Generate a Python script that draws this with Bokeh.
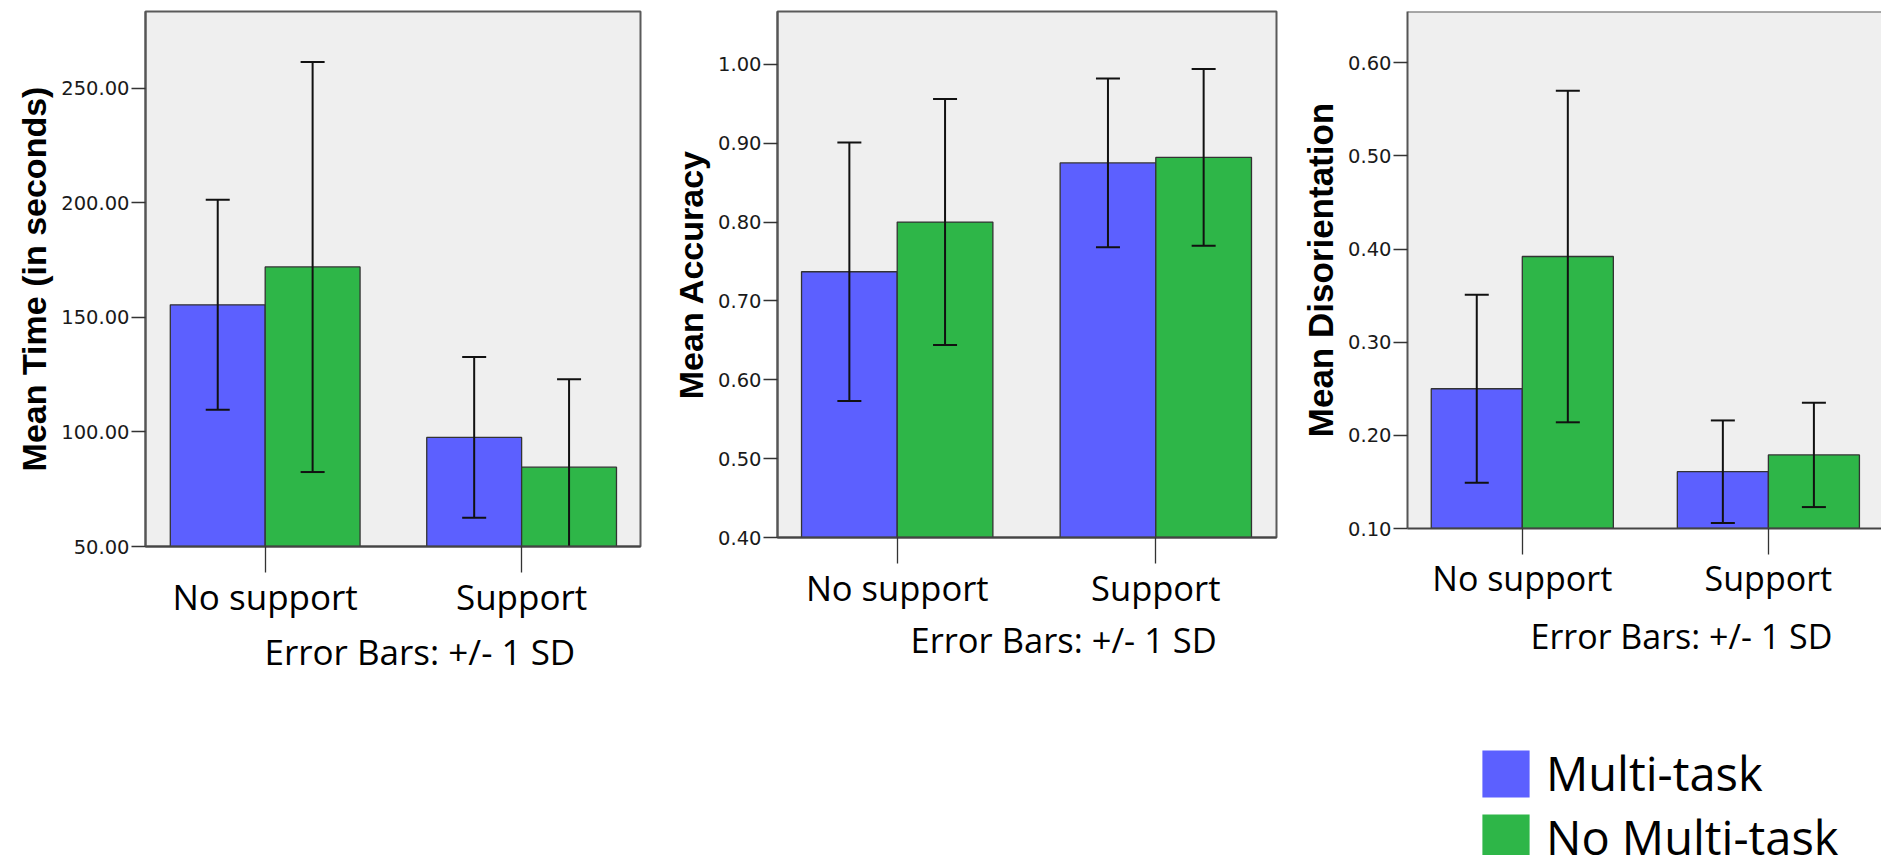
import numpy as np
from bokeh.plotting import figure
from bokeh.models import (ColumnDataSource, Range1d, FixedTicker, NumeralTickFormatter,
                          Legend, LegendItem, Span, Title)
from bokeh.layouts import row, column
from bokeh.embed import file_html
from bokeh.resources import INLINE

# ---------------- data ----------------
categories = ["No support", "Support"]
series_names = ["Multi-task", "No Multi-task"]

time_multi = [155.5, 97.6]
time_multi_sd = [45.8, 35.1]
time_nomulti = [172.0, 84.6]
time_nomulti_sd = [89.5, 38.4]
time_ticks = [50, 100, 150, 200, 250]

acc_multi = [0.737, 0.875]
acc_multi_sd = [0.164, 0.107]
acc_nomulti = [0.800, 0.882]
acc_nomulti_sd = [0.156, 0.112]
acc_ticks = [0.40, 0.50, 0.60, 0.70, 0.80, 0.90, 1.00]

dis_multi = [0.250, 0.161]
dis_multi_sd = [0.101, 0.055]
dis_nomulti = [0.392, 0.179]
dis_nomulti_sd = [0.178, 0.056]
dis_ticks = [0.10, 0.20, 0.30, 0.40, 0.50, 0.60]

# ---------------- style ----------------
BLUE = "#5C60FF"
GREEN = "#2EB648"
BAR_W = 0.37
TOP = 11


def no_align(p):
    if "frame_align" in p.properties():
        p.frame_align = False


def make_panel(width, height, left, right, frame_h, xr, yr, ticks, ylabel,
               multi, multi_sd, nomulti, nomulti_sd,
               xfont, eb_offset, eb_font, eb_standoff, title_size, outline=True):
    p = figure(width=width, height=height, x_range=Range1d(*xr), y_range=Range1d(*yr),
               output_backend="svg", toolbar_location=None,
               min_border_left=left, min_border_right=right,
               min_border_top=TOP, min_border_bottom=height - TOP - frame_h)
    no_align(p)
    p.background_fill_color = "#EFEFEF"
    p.border_fill_color = "white"
    p.grid.visible = False
    if outline:
        p.outline_line_color = "#5a5a5a"
        p.outline_line_width = 2
    else:
        p.outline_line_color = None
        p.add_layout(Span(location=yr[1], dimension="width",
                          line_color="#5a5a5a", line_width=2))

    base = yr[0]
    xs = np.arange(len(categories), dtype=float)
    for vals, sds, off, col in ((multi, multi_sd, -BAR_W / 2, BLUE),
                                (nomulti, nomulti_sd, BAR_W / 2, GREEN)):
        v = np.array(vals)
        s = np.array(sds)
        src = ColumnDataSource(dict(x=xs + off, top=v, lo=v - s, hi=v + s))
        p.vbar(x="x", top="top", bottom=base, width=BAR_W, source=src,
               fill_color=col, line_color="#333333", line_width=1.3)
        p.segment(x0="x", x1="x", y0="lo", y1="hi", source=src,
                  line_color="#111111", line_width=2)
        p.scatter(x="x", y="hi", source=src, marker="dash", size=24,
                  line_color="#111111", line_width=2)
        p.scatter(x="x", y="lo", source=src, marker="dash", size=24,
                  line_color="#111111", line_width=2)

    # x axis
    xa = p.xaxis[0]
    xa.ticker = FixedTicker(ticks=list(xs))
    xa.major_label_overrides = {float(i): c for i, c in enumerate(categories)}
    xa.major_tick_out = 26
    xa.major_tick_in = 0
    xa.major_tick_line_color = "#333333"
    xa.major_tick_line_width = 1.3
    xa.minor_tick_line_color = None
    xa.axis_line_color = "#444444"
    xa.axis_line_width = 2
    xa.major_label_text_font = "Open Sans"
    xa.major_label_text_font_size = xfont
    xa.major_label_text_color = "black"
    xa.major_label_standoff = 0

    # y axis
    ya = p.yaxis[0]
    ya.ticker = FixedTicker(ticks=ticks)
    ya.formatter = NumeralTickFormatter(format="0.00")
    ya.major_tick_out = 14
    ya.major_tick_in = 0
    ya.major_tick_line_color = "#333333"
    ya.major_tick_line_width = 1.5
    ya.minor_tick_line_color = None
    ya.axis_line_color = "#555555"
    ya.axis_line_width = 2
    ya.major_label_text_font = "DejaVu Sans"
    ya.major_label_text_font_size = "19.5px"
    ya.major_label_text_color = "#1a1a1a"
    ya.major_label_standoff = 2
    ya.axis_label = ylabel
    ya.axis_label_text_font = "Liberation Sans"
    ya.axis_label_text_font_style = "bold"
    ya.axis_label_text_font_size = title_size
    ya.axis_label_text_color = "black"
    ya.axis_label_standoff = 5

    p.add_layout(Title(text="Error Bars: +/- 1 SD", align="left", offset=eb_offset,
                       text_font="Open Sans", text_font_size=eb_font,
                       text_font_style="normal", text_color="black",
                       standoff=eb_standoff),
                 "below")
    return p


p1 = make_panel(668, 855, 145, 28, 535, (-0.4667, 1.4636), (50, 283.5), time_ticks,
                "Mean Time (in seconds)", time_multi, time_multi_sd,
                time_nomulti, time_nomulti_sd, "35px", 119, "35px", 6, "34px")
p2 = make_panel(630, 855, 109, 22, 526, (-0.4629, 1.4667), (0.40, 1.067), acc_ticks,
                "Mean Accuracy", acc_multi, acc_multi_sd,
                acc_nomulti, acc_nomulti_sd, "34.5px", 133, "34.5px", 0, "34px")
p3 = make_panel(583, 700, 105, 0, 517, (-0.4665, 1.4597), (0.10, 0.655), dis_ticks,
                "Mean Disorientation", dis_multi, dis_multi_sd,
                dis_nomulti, dis_nomulti_sd, "34px", 123, "34px", 14, "35px",
                outline=False)

# legend figure: the swatches come from hidden copies of the two bar series
lf = figure(width=583, height=155, x_range=Range1d(0, 1), y_range=Range1d(0, 1),
            output_backend="svg", toolbar_location=None, min_border=0)
no_align(lf)
lf.axis.visible = False
lf.grid.visible = False
lf.outline_line_color = None
lf.background_fill_color = "white"
xs_leg = list(range(len(categories)))
r_m = lf.vbar(x=xs_leg, top=dis_multi, width=BAR_W, fill_color=BLUE,
              line_color=None, visible=False)
r_n = lf.vbar(x=xs_leg, top=dis_nomulti, width=BAR_W, fill_color=GREEN,
              line_color=None, visible=False)
legend = Legend(items=[LegendItem(label=series_names[0], renderers=[r_m]),
                       LegendItem(label=series_names[1], renderers=[r_n])],
                location=(178, -14), glyph_width=59, glyph_height=59,
                label_height=47, spacing=0, label_standoff=11, padding=0, margin=0,
                border_line_color=None, background_fill_alpha=0,
                inactive_fill_alpha=0,
                label_text_font="Open Sans", label_text_font_size="47px",
                label_text_color="black")
lf.add_layout(legend, "center")

layout = row(p1, p2, column(p3, lf, spacing=0), spacing=0)
open("out.html", "w").write(file_html(layout, INLINE))
